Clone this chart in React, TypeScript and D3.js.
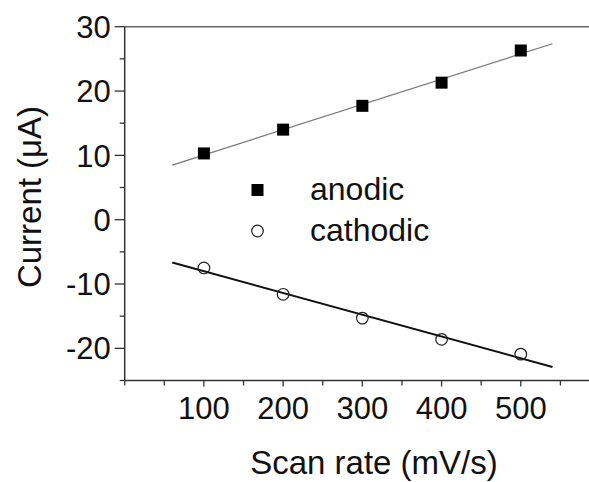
import React from "react";
import * as d3 from "d3";

// scan rate (mV/s)
const scanRates = [100, 200, 300, 400, 500];
// peak currents (uA)
const anodic = [10.3, 14.0, 17.7, 21.3, 26.3];
const cathodic = [-7.5, -11.6, -15.3, -18.6, -20.9];
const fitRange = [60, 540];

const xTicks = [100, 200, 300, 400, 500];
const xMinor = [0, 50, 150, 250, 350, 450, 550];
const yTicks = [30, 20, 10, 0, -10, -20];
const yMinor = [25, 15, 5, -5, -15, -25];

const W = 589;
const H = 482;
const FONT = "'Liberation Sans', Arial, sans-serif";

function linFit(xs: number[], ys: number[]) {
    const mx = d3.mean(xs) as number;
    const my = d3.mean(ys) as number;
    let sxy = 0, sxx = 0;
    xs.forEach((x, i) => {
        sxy += (x - mx) * (ys[i] - my);
        sxx += (x - mx) * (x - mx);
    });
    const slope = sxy / sxx;
    return (x: number) => my + slope * (x - mx);
}

export default function App() {
    const x = d3.scaleLinear().domain([0, 600]).range([124.7, 600]);
    const y = d3.scaleLinear().domain([-25, 30]).range([380.5, 26.7]);

    const line = d3.line<number[]>().x((d) => x(d[0])).y((d) => y(d[1]));
    const fa = linFit(scanRates, anodic);
    const fc = linFit(scanRates, cathodic);
    const anodicFit = fitRange.map((v) => [v, fa(v)]);
    const cathodicFit = fitRange.map((v) => [v, fc(v)]);

    const axisColor = "#333";
    const x0 = x.range()[0];
    const yBottom = y.range()[0];
    const yTop = y.range()[1];

    return (
        <svg width={W} height={H} style={{position: "absolute", left: 0, top: 0, fontFamily: FONT}}>
            <rect width={W} height={H} fill="#fff"/>
            {/* frame */}
            <line x1={x0} x2={W + 10} y1={yTop} y2={yTop} stroke="#666" strokeWidth={1.5}/>
            <line x1={x0} x2={x0} y1={yTop} y2={yBottom} stroke={axisColor} strokeWidth={1.5}/>
            <line x1={x0} x2={W + 10} y1={yBottom} y2={yBottom} stroke={axisColor} strokeWidth={1.5}/>

            {/* y ticks */}
            {yTicks.map((t) => (
                <g key={"y" + t}>
                    <line x1={x0 - 10} x2={x0} y1={y(t)} y2={y(t)} stroke={axisColor} strokeWidth={1.3}/>
                    <text x={x0 - 14} y={y(t)} dy="0.36em" textAnchor="end" fontSize={31} fill="#111">{t}</text>
                </g>
            ))}
            {yMinor.map((t) => (
                <line key={"ym" + t} x1={x0 - 5} x2={x0} y1={y(t)} y2={y(t)} stroke={axisColor} strokeWidth={1.3}/>
            ))}

            {/* x ticks */}
            {xTicks.map((t) => (
                <g key={"x" + t}>
                    <line x1={x(t)} x2={x(t)} y1={yBottom} y2={yBottom + 6} stroke={axisColor} strokeWidth={1.3}/>
                    <text x={x(t)} y={yBottom + 38} textAnchor="middle" fontSize={31} fill="#111">{t}</text>
                </g>
            ))}
            {xMinor.map((t) => (
                <line key={"xm" + t} x1={x(t)} x2={x(t)} y1={yBottom} y2={yBottom + 5} stroke={axisColor} strokeWidth={1.3}/>
            ))}

            {/* axis titles */}
            <text x={374} y={474} textAnchor="middle" fontSize={33} fill="#111">Scan rate (mV/s)</text>
            <text transform={`translate(41, 197) rotate(-90)`} textAnchor="middle" fontSize={33} fill="#111">Current (μA)</text>

            {/* fits */}
            <path d={line(anodicFit) as string} fill="none" stroke="#777" strokeWidth={1.2}/>
            <path d={line(cathodicFit) as string} fill="none" stroke="#111" strokeWidth={2}/>

            {/* markers */}
            {scanRates.map((s, i) => (
                <rect key={"a" + s} x={x(s) - 6} y={y(anodic[i]) - 6} width={12} height={12} fill="#000"/>
            ))}
            {scanRates.map((s, i) => (
                <circle key={"c" + s} cx={x(s)} cy={y(cathodic[i])} r={5.8} fill="none" stroke="#222" strokeWidth={1.2}/>
            ))}

            {/* legend */}
            <rect x={251.5} y={184} width={12} height={12} fill="#000"/>
            <text x={310} y={200} fontSize={32} fill="#111">anodic</text>
            <circle cx={257.5} cy={231} r={5.8} fill="none" stroke="#222" strokeWidth={1.2}/>
            <text x={310} y={241} fontSize={32} fill="#111">cathodic</text>
        </svg>
    );
}
